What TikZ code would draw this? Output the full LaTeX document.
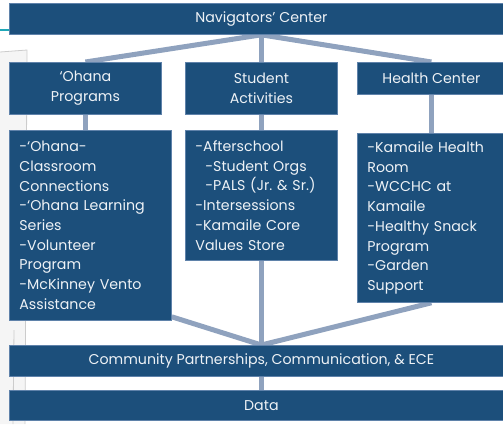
\documentclass[tikz,border=0pt]{standalone}
\usepackage{fontspec}
\setmainfont{Poppins}
\usetikzlibrary{positioning, calc, backgrounds}
\definecolor{boxBlue}{HTML}{1C4F7B}
\definecolor{edgeBlue}{HTML}{5F82AA}
\definecolor{linkGrey}{HTML}{8FA2BE}
\definecolor{lineTeal}{HTML}{1FA8B8}
\definecolor{textWhite}{HTML}{EEF2F6}
\tikzset{
    box/.style={draw=edgeBlue, line width=0.8pt, fill=boxBlue, text=textWhite,
        font=\fontsize{14.2}{19.7}\selectfont, inner sep=0pt, anchor=north west},
    headbox/.style={box, align=center},
    listbox/.style={box, align=left, inner xsep=10pt},
    link/.style={draw=linkGrey, line width=5pt},
}

\begin{document}
\begin{tikzpicture}[x=1pt, y=-1pt]
    \useasboundingbox (0,0) rectangle (503,424);

    % Top bar
    \node[headbox, minimum width=504, minimum height=31] (navCenter) at (9,3) {Navigators' Center};

    % Heads
    \node[headbox, minimum width=152, minimum height=52] (ohanaHead) at (9,62) {‘Ohana\\Programs};
    \node[headbox, minimum width=152, minimum height=52] (studentHead) at (185,62) {Student\\Activities};
    \node[headbox, minimum width=148, minimum height=32] (healthHead) at (357,62) {Health Center};

    % Lists
    \node[listbox, minimum width=162, minimum height=190, text width=142] (ohanaList) at (9,130)
        {-‘Ohana-\\Classroom\\Connections\\-‘Ohana Learning\\Series\\-Volunteer\\Program\\-McKinney Vento\\Assistance};
    \node[listbox, minimum width=152, minimum height=130, text width=132] (studentList) at (185,130)
        {-Afterschool\\\hspace*{10pt}-Student Orgs\\\hspace*{10pt}-PALS (Jr.~\&~Sr.)\\-Intersessions\\-Kamaile Core\\Values Store};
    \node[listbox, minimum width=148, minimum height=169, text width=128] (healthList) at (357,133)
        {-Kamaile Health\\Room\\-WCCHC at\\Kamaile\\-Healthy Snack\\Program\\-Garden\\Support};

    % Bottom bars
    \node[headbox, minimum width=504, minimum height=31] (partners) at (9,345) {Community Partnerships, Communication, \& ECE};
    \node[headbox, minimum width=504, minimum height=30] (dataBar) at (9,390) {Data};

    \begin{scope}[on background layer]
        % faded page on the left
        \fill[black!4] (0,52) -- (27,50) -- (25,424) -- (0,424) -- cycle;
        \draw[gray!40, line width=0.8pt] (0,52) -- (27,50) -- (25,424);
        \draw[gray!40, line width=0.8pt] (14,330) -- (13,424);
        \draw[lineTeal, line width=1.5pt] (0,30) -- (9,30);

        % connectors
        \draw[link] (navCenter.south) -- (ohanaHead.north);
        \draw[link] (navCenter.south) -- (studentHead.north);
        \draw[link] (navCenter.south) -- (healthHead.north);
        \draw[link] (ohanaHead.south) -- (ohanaHead.south |- ohanaList.north);
        \draw[link] (studentHead.south) -- (studentList.north);
        \draw[link] (healthHead.south) -- (healthList.north);
        \draw[link] ([yshift=4pt]ohanaList.south east) -- (partners.north);
        \draw[link] (studentList.south) -- (partners.north);
        \draw[link] (healthList.south) -- (partners.north);
        \draw[link] (partners.south) -- (dataBar.north);
    \end{scope}
\end{tikzpicture}
\end{document}
